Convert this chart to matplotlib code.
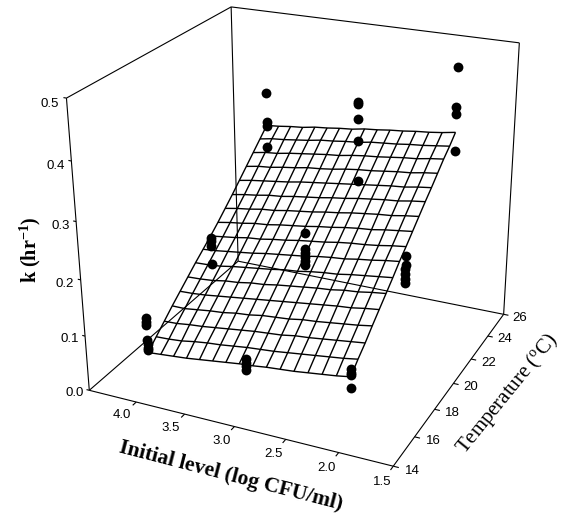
import matplotlib
matplotlib.use('Agg')
import matplotlib.pyplot as plt
import numpy as np
from mpl_toolkits.mplot3d import Axes3D
from mpl_toolkits.mplot3d.art3d import Line3DCollection

plt.rcParams['font.family'] = ['Liberation Sans', 'DejaVu Sans']
plt.rcParams['mathtext.default'] = 'regular'

W, H = 562, 518

# axis ticks
level_ticks = [4.0, 3.5, 3.0, 2.5, 2.0, 1.5]
temp_ticks = [14, 16, 18, 20, 22, 24, 26]
k_ticks = [0.0, 0.1, 0.2, 0.3, 0.4, 0.5]
level_lim = (1.5, 4.5)
temp_lim = (14, 26)
k_lim = (0.0, 0.5)

# measured growth rates, one list per level / temperature
k_4_15 = [0.130, 0.123, 0.118, 0.091, 0.084, 0.077, 0.072]
k_3_15 = [0.097, 0.091, 0.084, 0.078]
k_2_15 = [0.122, 0.115, 0.111, 0.088]
k_4_20 = [0.178, 0.171, 0.162, 0.128]
k_3_20 = [0.220, 0.191, 0.184, 0.176, 0.169, 0.162]
k_2_20 = [0.212, 0.197, 0.189, 0.181, 0.172, 0.164]
k_4_25 = [0.366, 0.311, 0.304, 0.264]
k_3_25 = [0.375, 0.370, 0.344, 0.303, 0.227]
k_2_25 = [0.461, 0.391, 0.378, 0.312]

# fitted surface, rows go 15 -> 25 C, columns go level 4 -> 2
surf_levels = np.linspace(4.0, 2.0, 16)
surf_temps = np.linspace(15, 25, 17)
surf_k = [
    [.068, .070, .072, .074, .077, .080, .083, .086, .088, .091, .093, .095, .098, .101, .104, .108],
    [.083, .084, .086, .090, .093, .095, .098, .101, .103, .105, .108, .111, .114, .117, .120, .124],
    [.098, .099, .102, .104, .107, .110, .113, .116, .118, .120, .124, .126, .129, .132, .135, .138],
    [.113, .113, .116, .119, .121, .125, .127, .131, .133, .135, .139, .141, .144, .147, .150, .154],
    [.127, .128, .130, .133, .136, .139, .142, .145, .148, .151, .154, .157, .160, .162, .166, .169],
    [.141, .142, .144, .148, .150, .154, .156, .160, .163, .166, .169, .171, .175, .177, .181, .184],
    [.155, .156, .158, .162, .165, .168, .171, .175, .177, .181, .184, .186, .190, .193, .196, .199],
    [.168, .170, .173, .176, .179, .183, .186, .189, .192, .196, .199, .201, .205, .208, .212, .215],
    [.181, .184, .187, .191, .193, .197, .200, .204, .207, .210, .214, .217, .219, .222, .226, .229],
    [.195, .199, .202, .206, .208, .212, .215, .218, .222, .225, .229, .232, .234, .238, .241, .244],
    [.210, .214, .217, .221, .223, .227, .230, .233, .237, .240, .244, .247, .250, .252, .256, .259],
    [.225, .229, .232, .236, .238, .242, .245, .248, .252, .255, .259, .262, .265, .267, .271, .274],
    [.241, .245, .248, .251, .254, .258, .261, .264, .267, .270, .273, .276, .279, .281, .285, .288],
    [.257, .261, .263, .267, .270, .274, .276, .279, .283, .286, .288, .291, .294, .296, .300, .303],
    [.273, .277, .279, .283, .286, .289, .292, .294, .298, .301, .303, .306, .309, .311, .315, .318],
    [.289, .293, .295, .298, .301, .305, .307, .310, .312, .316, .318, .320, .323, .325, .328, .331],
    [.305, .307, .310, .312, .316, .318, .321, .323, .327, .329, .332, .334, .337, .339, .342, .346],
]

# camera calibration: box positions against where they sit in the image
calib_xyz = [(4.5, 14, 0), (1.5, 14, 0), (1.5, 26, 0), (4.5, 26, 0),
             (4.5, 14, .5), (4.5, 26, .5), (1.5, 26, .5),
             (4.5, 14, .1), (4.5, 14, .2), (4.5, 14, .3), (4.5, 14, .4),
             (4.0, 14, 0), (3.5, 14, 0), (3.0, 14, 0), (2.0, 14, 0),
             (1.5, 16, 0), (1.5, 18, 0), (1.5, 20, 0), (1.5, 22, 0), (1.5, 24, 0)]
calib_px = [(90, 390), (393, 466), (503, 315), (238, 260),
            (67, 97), (231, 7), (519, 43),
            (86, 337), (81, 281), (76, 223), (71, 160),
            (135, 402), (185, 414), (233, 427), (337, 452),
            (416, 436), (435, 409), (454, 383), (472, 359), (488, 337)]


def fit_camera(xyz, px):
    'DLT fit of a 3x4 projection, data coords to image pixels'
    xyz = np.array(xyz, dtype=float)
    px = np.array(px, dtype=float)
    scale = np.diag([1/3., 1/12., 2., 1.])
    scale[:3, 3] = [-0.5, -14/12., 0.]
    q = (scale @ np.c_[xyz, np.ones(len(xyz))].T).T
    rows = []
    for p, (u, v) in zip(q, px/500.):
        rows.append(np.r_[p, 0, 0, 0, 0, -u*p])
        rows.append(np.r_[0, 0, 0, 0, p, -v*p])
    vt = np.linalg.svd(np.array(rows))[2]
    cam = vt[-1].reshape(3, 4)
    cam = np.diag([500., 500., 1.]) @ cam @ scale
    # keep w close to 1 in the middle of the box
    return cam / (cam[2] @ np.array([3, 20, .25, 1]))


camera = fit_camera(calib_xyz, calib_px)

fig = plt.figure(figsize=(W/100., H/100.), dpi=100, facecolor='white')
ax = fig.add_axes([0, 0, 1, 1], projection='3d')
ax.set_axis_off()


def get_proj():
    'mplot3d wants data coords -> 2d axes data coords'
    to_display = np.array([[1, 0, 0], [0, -1, H], [0, 0, 1.]])
    m = np.linalg.inv(ax.transData.get_matrix()) @ to_display @ camera
    # depth row must stay negative or mplot3d clips scatter points
    return np.array([m[0], m[1], [0, -0.01, 0, 0], m[2]])


ax.get_proj = get_proj


def label_at(x, t, k, txt):
    'tick label at a box position, as plain figure text'
    px = camera @ np.array([x, t, k, 1.])
    fig.text(px[0]/px[2]/W, 1-px[1]/px[2]/H, txt, fontsize=9.5, ha='center', va='center')


x0, x1 = level_lim
t0, t1 = temp_lim
z0, z1 = k_lim

# box edges
box_segs = [
    [(x1, t0, z0), (x1, t0, z1)],
    [(x1, t0, z1), (x1, t1, z1)],
    [(x1, t1, z1), (x0, t1, z1)],
    [(x0, t1, z1), (x0, t1, z0)],
    [(x1, t1, z1), (x1, t1, z0)],
    [(x1, t0, z0), (x0, t0, z0)],
    [(x1, t0, z0), (x1, t1, z0)],
    [(x0, t0, z0), (x0, t1, z0)],
    [(x1, t1, z0), (x0, t1, z0)],
]

# ticks and tick labels
for lev in level_ticks:
    box_segs.append([(lev, t0, z0), (lev, t0-0.25, z0)])
    label_at(lev, t0-1.0, z0, '%.1f' % lev)
for temp in temp_ticks:
    box_segs.append([(x0, temp, z0), (x0-0.05, temp, z0)])
    label_at(x0-0.17, temp, z0, '%d' % temp)
for kv in k_ticks:
    box_segs.append([(x1, t0, kv), (x1+0.03, t0, kv)])
    label_at(x1+0.17, t0, kv-0.013, '%.1f' % kv)
ax.add_collection3d(Line3DCollection(box_segs, colors='black', linewidths=0.8))

# surface
grid_x, grid_t = np.meshgrid(surf_levels, surf_temps)
ax.plot_wireframe(grid_x, grid_t, np.array(surf_k), rstride=1, cstride=1,
                  color='black', linewidth=1.0)

# data points
groups = [(4, 15, k_4_15), (3, 15, k_3_15), (2, 15, k_2_15),
          (4, 20, k_4_20), (3, 20, k_3_20), (2, 20, k_2_20),
          (4, 25, k_4_25), (3, 25, k_3_25), (2, 25, k_2_25)]
for lev, temp, vals in groups:
    ax.scatter([lev]*len(vals), [temp]*len(vals), vals, color='black', s=50,
               linewidths=0, depthshade=False)

# axis titles
fig.text(231/W, 1-476/H, 'Initial level (log CFU/ml)', family='Liberation Serif',
         fontweight='bold', fontsize=15.5, rotation=-14.5, ha='center', va='center')
fig.text(507/W, 1-394/H, 'Temperature ($^{o}$C)', family='Liberation Serif',
         fontsize=15, rotation=51, ha='center', va='center')
fig.text(30/W, 1-250/H, 'k (hr$^{-1}$)', family='Liberation Serif',
         fontweight='bold', fontsize=14.5, rotation=90, ha='center', va='center')

fig.savefig('out.png', dpi=100)
